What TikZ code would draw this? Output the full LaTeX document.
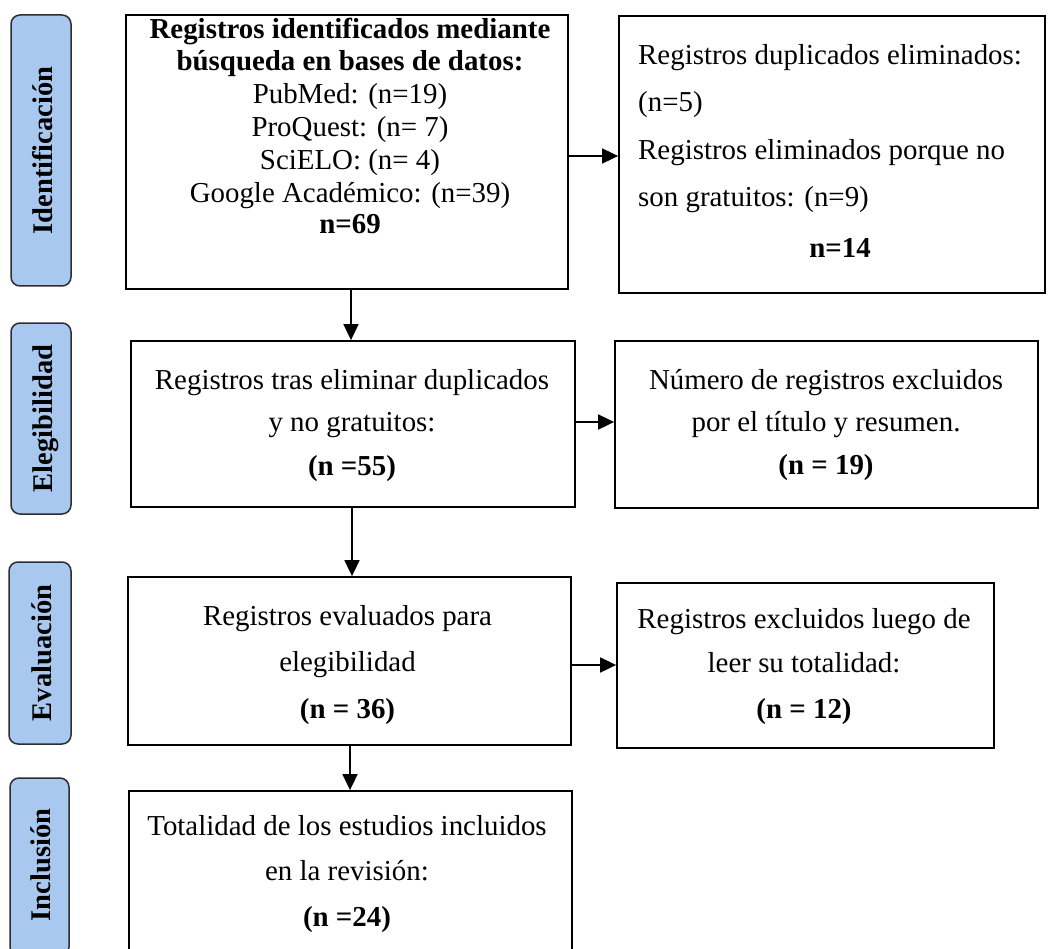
\documentclass[tikz,border=0pt]{standalone}
\usepackage{fontspec}
\setmainfont{Liberation Serif}
\usetikzlibrary{arrows.meta}
\definecolor{lblue}{RGB}{168,200,239}
\definecolor{lborder}{RGB}{45,45,50}
\tikzset{
  box/.style={draw=black, line width=1.8pt, rectangle, inner sep=0pt},
  stage/.style={draw=lborder, line width=1.5pt, fill=lblue, rounded corners=9pt, rectangle, inner sep=0pt, minimum width=60pt},
  stagetext/.style={rotate=90, anchor=base, inner sep=0pt, font=\fontsize{28.5}{34}\selectfont\bfseries},
  txt/.style={anchor=base, inner sep=0pt, font=\fontsize{28.9}{34}\selectfont},
  ltxt/.style={anchor=base west, inner sep=0pt, font=\fontsize{28.9}{34}\selectfont},
  arr/.style={line width=1.8pt, -{Triangle[length=16pt,width=15pt]}}
}
\begin{document}
\begin{tikzpicture}[x=1pt,y=-1pt]
\useasboundingbox (0,0) rectangle (1048,949);
\clip (0,0) rectangle (1048,949);
\fill[white] (0,0) rectangle (1048,949);

% stage labels
\node[stage, minimum height=271pt] (s1) at (41,150.5) {};
\node[stagetext] (s1t) at (52,150.5) {Identificación};
\node[stage, minimum height=191pt] (s2) at (41,418.5) {};
\node[stagetext] (s2t) at (52,418.5) {Elegibilidad};
\node[stage, minimum height=182pt, minimum width=62pt] (s3) at (40,653) {};
\node[stagetext] (s3t) at (51,653) {Evaluación};
\node[stage, minimum height=178pt, minimum width=59pt] (s4) at (39.5,867) {};
\node[stagetext] (s4t) at (50,865) {Inclusión};

% boxes
\node[box, minimum width=442pt, minimum height=274pt] (b1) at (347,152) {};
\node[box, minimum width=426pt, minimum height=277pt] (b2) at (832,154.5) {};
\node[box, minimum width=444pt, minimum height=166pt] (b3) at (353,424) {};
\node[box, minimum width=423pt, minimum height=167pt] (b4) at (826.5,424.5) {};
\node[box, minimum width=443pt, minimum height=168pt] (b5) at (349.5,661) {};
\node[box, minimum width=377pt, minimum height=165pt] (b6) at (805.5,665.5) {};
\node[box, minimum width=443pt, minimum height=180pt] (b7) at (350.5,881) {};

% box 1 text
\node[txt] (t11) at (350,39) {\bfseries Registros identificados mediante};
\node[txt] (t12) at (350,71) {\bfseries búsqueda en bases de datos:};
\node[txt] (t13) at (350,104) {PubMed: (n=19)};
\node[txt] (t14) at (350,137) {ProQuest: (n= 7)};
\node[txt] (t15) at (350,170) {SciELO: (n= 4)};
\node[txt] (t16) at (350,203) {Google Académico: (n=39)};
\node[txt] (t17) at (350,234) {\bfseries n=69};

% box 2 text
\node[ltxt] (t21) at (638,65) {Registros duplicados eliminados:};
\node[ltxt] (t22) at (638,112) {(n=5)};
\node[ltxt] (t23) at (638,160) {Registros eliminados porque no};
\node[ltxt] (t24) at (638,207) {son gratuitos: (n=9)};
\node[txt] (t25) at (840,258) {\bfseries n=14};

% box 3 text
\node[txt] (t31) at (352,389) {Registros tras eliminar duplicados};
\node[txt] (t32) at (352,431) {y no gratuitos:};
\node[txt] (t33) at (352,475) {\bfseries (n =55)};

% box 4 text
\node[txt] (t41) at (826,389) {Número de registros excluidos};
\node[txt] (t42) at (826,431) {por el título y resumen.};
\node[txt] (t43) at (826,474) {\bfseries (n = 19)};

% box 5 text
\node[txt] (t51) at (347.5,625) {Registros evaluados para};
\node[txt] (t52) at (347.5,671) {elegibilidad};
\node[txt] (t53) at (347.5,718) {\bfseries (n = 36)};

% box 6 text
\node[txt] (t61) at (804,628) {Registros excluidos luego de};
\node[txt] (t62) at (804,672) {leer su totalidad:};
\node[txt] (t63) at (804,718) {\bfseries (n = 12)};

% box 7 text
\node[txt] (t71) at (347,835) {Totalidad de los estudios incluidos};
\node[txt] (t72) at (347,880) {en la revisión:};
\node[txt] (t73) at (347,926) {\bfseries (n =24)};

% connectors
\coordinate (h1) at (0,156);
\coordinate (h2) at (0,422);
\coordinate (h3) at (0,665);
\coordinate (v1) at (351,0);
\coordinate (v2) at (352,0);
\coordinate (v3) at (350,0);
\draw[arr] (b1.east |- h1) -- (b2.west |- h1);
\draw[arr] (b3.east |- h2) -- (b4.west |- h2);
\draw[arr] (b5.east |- h3) -- (b6.west |- h3);
\draw[arr] (b1.south -| v1) -- (b3.north -| v1);
\draw[arr] (b3.south -| v2) -- (b5.north -| v2);
\draw[arr] (b5.south -| v3) -- (b7.north -| v3);
\end{tikzpicture}
\end{document}
